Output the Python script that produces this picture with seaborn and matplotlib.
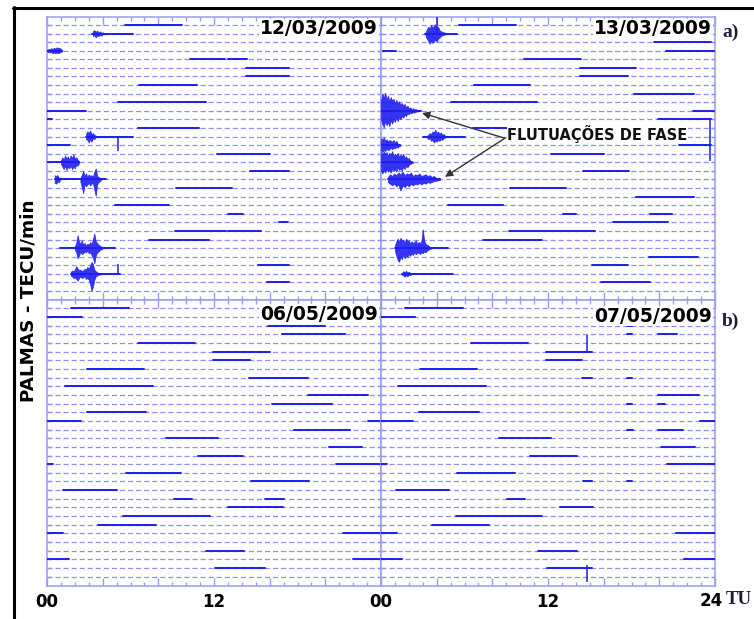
import matplotlib
matplotlib.use("Agg")
import matplotlib.pyplot as plt
import seaborn as sns
import pandas as pd
from matplotlib.lines import Line2D
from matplotlib.ticker import MultipleLocator

# ---------------- data (hours UT, row index of satellite trace) ----------------
PANEL_DATES = ["12/03/2009", "13/03/2009", "06/05/2009", "07/05/2009"]
N_ROWS = 32
XTICK_LABELS_LEFT = {0: "00", 12: "12"}
XTICK_LABELS_RIGHT = {0: "00", 12: "12"}
LAST_TICK_LABEL = "24"
X_UNIT = "TU"

# (row, start hour, end hour)
TL_SEGMENTS = [(0, 5.62, 9.72), (1, 3.26, 6.2), (3, 0.0, 1.08), (4, 10.3, 12.8), (4, 13.0, 14.4),
               (5, 14.3, 17.4), (6, 14.3, 17.4), (7, 6.6, 10.8), (9, 5.07, 11.46), (10, 0.0, 2.82),
               (11, 0.0, 0.36), (12, 6.56, 10.93), (13, 2.82, 6.15), (14, 0.0, 1.62), (15, 12.2, 16.0),
               (16, 0.0, 2.3), (17, 14.6, 17.4), (18, 0.55, 4.27), (19, 9.3, 13.3), (21, 4.9, 8.75),
               (22, 13.0, 14.06), (23, 16.7, 17.3), (24, 9.17, 12.85), (24, 13.0, 15.4),
               (25, 7.36, 11.65), (26, 0.96, 4.9), (28, 15.15, 17.4), (29, 1.7, 5.23), (30, 15.8, 17.4)]
TR_SEGMENTS = [(0, 5.57, 9.73), (1, 3.17, 5.45), (2, 19.6, 23.7), (3, 0.17, 1.08), (3, 20.5, 23.95),
               (4, 10.3, 14.4), (5, 14.3, 18.35), (6, 14.3, 17.75), (7, 6.65, 10.7), (8, 18.2, 22.5),
               (9, 5.05, 11.2), (10, 0.0, 2.85), (10, 22.4, 23.95), (11, 19.9, 23.7), (12, 6.6, 10.85),
               (13, 3.05, 6.05), (14, 0.0, 1.4), (14, 21.4, 23.7), (15, 12.2, 16.0), (16, 0.0, 2.2),
               (17, 14.5, 17.8), (18, 0.53, 4.25), (19, 9.25, 13.26), (20, 18.35, 22.5), (21, 4.85, 8.77),
               (22, 13.07, 14.03), (22, 19.3, 20.9), (23, 16.7, 20.6), (24, 9.18, 15.35), (25, 7.33, 11.58),
               (26, 1.0, 4.85), (27, 19.26, 22.8), (28, 15.18, 17.75), (29, 1.54, 5.2), (30, 15.8, 19.34)]
BL_SEGMENTS = [(0, 1.76, 5.92), (1, 0.0, 2.48), (2, 15.9, 20.0), (3, 16.86, 21.4), (4, 6.57, 10.65),
               (5, 11.9, 16.0), (6, 11.9, 14.57), (7, 2.89, 7.0), (8, 14.5, 18.76), (9, 1.27, 7.6),
               (10, 18.78, 23.04), (11, 16.2, 20.5), (12, 2.84, 7.1), (13, 0.0, 2.43), (13, 23.04, 24.0),
               (14, 17.75, 21.8), (15, 8.54, 12.3), (16, 20.27, 22.6), (17, 10.85, 14.1), (18, 0.0, 0.43),
               (18, 20.75, 24.0), (19, 5.65, 9.64), (20, 14.67, 18.83), (21, 1.15, 5.0), (22, 9.16, 10.4),
               (22, 15.7, 17.0), (23, 13.0, 16.96), (24, 5.43, 11.69), (25, 3.68, 7.82), (26, 0.0, 1.15),
               (26, 21.3, 24.0), (28, 11.45, 14.19), (29, 0.0, 1.56), (29, 21.96, 24.0), (30, 12.05, 15.7)]
BR_SEGMENTS = [(0, 1.72, 5.87), (1, 0.0, 2.44), (2, 17.65, 18.0), (3, 17.65, 18.05), (3, 19.9, 21.25),
               (4, 6.5, 10.54), (5, 11.86, 15.14), (6, 11.86, 14.47), (7, 2.8, 6.92), (8, 14.42, 15.14),
               (8, 17.65, 18.0), (9, 1.2, 7.54), (10, 19.93, 22.87), (11, 17.65, 18.0), (11, 19.93, 20.4),
               (12, 2.75, 7.02), (13, 0.0, 2.32), (13, 22.92, 24.0), (14, 17.65, 18.1), (14, 19.93, 21.68),
               (15, 8.5, 12.2), (16, 20.1, 22.56), (17, 10.7, 14.06), (18, 0.0, 0.4), (18, 20.57, 24.0),
               (19, 5.48, 9.63), (20, 14.54, 15.14), (20, 17.65, 18.0), (21, 1.08, 4.91), (22, 9.08, 10.35),
               (23, 12.86, 15.2), (24, 5.39, 11.6), (25, 3.64, 7.76), (26, 0.0, 1.13), (26, 21.2, 24.0),
               (28, 11.3, 14.06), (29, 0.0, 1.49), (29, 21.8, 24.0), (30, 11.95, 15.14)]

# phase fluctuation bursts: (row, hours, excursion above, excursion below) in row units
TL_BURSTS = [
    (1, [3.3, 3.4, 3.5, 3.6, 3.7, 3.8, 3.9, 4.0, 4.1, 4.2],
     [0.3, 0.4, 0.2, 0.35, 0.15, 0.25, 0.1, 0.15, 0.05, 0.03],
     [0.3, 0.2, 0.45, 0.2, 0.3, 0.15, 0.25, 0.1, 0.08, 0.03]),
    (3, [0.0, 0.1, 0.2, 0.3, 0.4, 0.5, 0.6, 0.7, 0.8, 0.9, 1.0, 1.1],
     [0.1, 0.2, 0.15, 0.3, 0.2, 0.35, 0.25, 0.4, 0.3, 0.35, 0.2, 0.05],
     [0.1, 0.15, 0.2, 0.15, 0.3, 0.2, 0.3, 0.2, 0.3, 0.2, 0.15, 0.05]),
    (13, [2.8, 2.9, 3.0, 3.1, 3.2, 3.3, 3.4, 3.5, 3.6],
     [0.3, 0.6, 0.4, 0.7, 0.3, 0.4, 0.2, 0.1, 0.03],
     [0.3, 0.4, 0.7, 0.3, 0.6, 0.2, 0.3, 0.1, 0.03]),
    (16, [1.0, 1.1, 1.2, 1.3, 1.4, 1.5, 1.6, 1.7, 1.8, 1.9, 2.0, 2.1, 2.2, 2.3],
     [0.2, 0.6, 0.3, 0.8, 0.4, 0.7, 0.3, 0.8, 0.5, 0.9, 0.4, 0.6, 0.3, 0.1],
     [0.2, 0.5, 0.8, 0.4, 0.9, 0.5, 0.7, 0.4, 0.8, 0.5, 0.7, 0.3, 0.4, 0.1]),
    (18, [0.55, 0.65, 0.75, 0.85, 0.95],
     [0.5, 0.4, 0.5, 0.2, 0.05],
     [0.4, 0.5, 0.3, 0.3, 0.05]),
    (18, [2.4, 2.5, 2.6, 2.7, 2.8, 2.9, 3.0, 3.1, 3.2, 3.3, 3.4, 3.5, 3.6, 3.7, 3.8, 3.9],
     [0.2, 0.5, 1.0, 0.4, 0.7, 0.3, 0.6, 0.4, 0.5, 0.3, 0.9, 1.3, 0.4, 0.3, 0.2, 0.05],
     [0.3, 0.9, 1.6, 0.5, 0.8, 0.6, 0.4, 0.7, 0.5, 0.4, 1.2, 1.9, 0.6, 0.3, 0.2, 0.05]),
    (26, [2.0, 2.1, 2.2, 2.3, 2.4, 2.5, 2.6, 2.7, 2.8, 2.9, 3.0, 3.1, 3.2, 3.3, 3.4, 3.5, 3.6, 3.7, 3.8,
          3.9, 4.0],
     [0.2, 0.6, 1.5, 0.8, 0.5, 0.9, 0.4, 0.6, 0.3, 0.5, 0.4, 0.7, 0.5, 1.0, 1.7, 0.8, 0.6, 0.4, 0.3,
      0.15, 0.05],
     [0.2, 0.5, 1.2, 0.9, 0.4, 0.7, 0.6, 0.4, 0.5, 0.3, 0.6, 0.5, 0.8, 1.1, 1.8, 0.9, 0.5, 0.4, 0.2,
      0.15, 0.05]),
    (29, [1.7, 1.8, 1.9, 2.0, 2.1, 2.2, 2.3, 2.4, 2.5, 2.6, 2.7, 2.8, 2.9, 3.0, 3.1, 3.2, 3.3, 3.4, 3.5,
          3.6, 3.7, 3.8, 3.9],
     [0.2, 0.4, 0.3, 0.5, 0.9, 0.6, 0.4, 0.5, 0.3, 0.4, 0.6, 0.5, 0.8, 0.6, 1.0, 1.4, 1.1, 0.5, 0.3,
      0.2, 0.1, 0.08, 0.05],
     [0.2, 0.3, 0.5, 0.4, 0.6, 0.8, 0.5, 0.3, 0.5, 0.4, 0.3, 0.6, 0.5, 0.7, 1.2, 2.0, 1.5, 0.7, 0.3,
      0.2, 0.1, 0.08, 0.05]),
]
TR_BURSTS = [
    (1, [3.2, 3.3, 3.4, 3.5, 3.6, 3.7, 3.8, 3.9, 4.0, 4.1, 4.2, 4.3, 4.4, 4.5, 4.6, 4.7, 4.8],
     [0.2, 0.5, 0.8, 0.6, 1.0, 0.7, 0.9, 1.1, 0.6, 0.8, 0.4, 0.3, 0.2, 0.15, 0.1, 0.08, 0.05],
     [0.3, 0.6, 0.9, 1.2, 0.8, 1.1, 0.9, 0.7, 1.0, 0.6, 0.5, 0.3, 0.2, 0.15, 0.1, 0.08, 0.05]),
    (10, [0.0, 0.1, 0.2, 0.3, 0.4, 0.5, 0.6, 0.7, 0.8, 0.9, 1.0, 1.1, 1.2, 1.3, 1.4, 1.5, 1.6, 1.7, 1.8,
          1.9, 2.0, 2.1, 2.2, 2.3, 2.4, 2.5, 2.6, 2.7, 2.8],
     [1.2, 2.0, 1.5, 2.1, 1.3, 1.8, 1.1, 1.6, 1.2, 1.4, 0.9, 1.3, 0.8, 1.1, 0.7, 0.9, 0.6, 0.8, 0.4,
      0.6, 0.3, 0.4, 0.2, 0.3, 0.15, 0.2, 0.1, 0.08, 0.05],
     [1.0, 1.6, 1.9, 1.2, 1.7, 1.3, 1.8, 1.1, 1.5, 1.0, 1.3, 0.8, 1.2, 0.7, 1.0, 0.6, 0.8, 0.5, 0.6,
      0.3, 0.4, 0.2, 0.3, 0.15, 0.2, 0.1, 0.08, 0.05, 0.05]),
    (13, [3.3, 3.4, 3.5, 3.6, 3.7, 3.8, 3.9, 4.0, 4.1, 4.2, 4.3, 4.4, 4.5, 4.6, 4.7, 4.8],
     [0.1, 0.2, 0.4, 0.3, 0.6, 0.5, 0.8, 0.4, 0.6, 0.3, 0.5, 0.2, 0.3, 0.1, 0.08, 0.05],
     [0.1, 0.3, 0.2, 0.5, 0.4, 0.7, 0.5, 0.6, 0.4, 0.5, 0.3, 0.4, 0.2, 0.1, 0.08, 0.05]),
    (14, [0.0, 0.1, 0.2, 0.3, 0.4, 0.5, 0.6, 0.7, 0.8, 0.9, 1.0, 1.1, 1.2, 1.3, 1.4],
     [0.8, 0.6, 0.9, 0.5, 0.7, 0.4, 0.6, 0.5, 0.4, 0.6, 0.3, 0.5, 0.2, 0.1, 0.05],
     [0.6, 0.8, 0.5, 0.7, 0.4, 0.6, 0.5, 0.3, 0.5, 0.3, 0.4, 0.2, 0.3, 0.1, 0.05]),
    (16, [0.0, 0.1, 0.2, 0.3, 0.4, 0.5, 0.6, 0.7, 0.8, 0.9, 1.0, 1.1, 1.2, 1.3, 1.4, 1.5, 1.6, 1.7, 1.8,
          1.9, 2.0, 2.1, 2.2, 2.3],
     [1.2, 0.9, 1.3, 1.0, 1.2, 0.8, 1.1, 0.9, 1.3, 0.7, 1.0, 0.8, 1.1, 0.6, 0.9, 0.7, 1.0, 0.5, 0.7,
      0.4, 0.5, 0.2, 0.1, 0.05],
     [1.0, 1.3, 0.9, 1.2, 0.8, 1.1, 0.9, 1.2, 0.7, 1.0, 0.8, 1.1, 0.6, 0.9, 0.7, 1.0, 0.5, 0.8, 0.4,
      0.6, 0.3, 0.2, 0.1, 0.05]),
    (18, [0.5, 0.65, 0.8, 0.95, 1.1, 1.25, 1.4, 1.55, 1.7, 1.85, 2.0, 2.15, 2.3, 2.45, 2.6, 2.75, 2.9,
          3.05, 3.2, 3.35, 3.5, 3.65, 3.8, 3.95, 4.1, 4.25],
     [0.3, 0.6, 0.4, 0.7, 0.5, 0.8, 0.6, 0.9, 0.5, 0.7, 0.6, 0.8, 0.4, 0.6, 0.5, 0.7, 0.4, 0.5, 0.6,
      0.4, 0.5, 0.3, 0.4, 0.2, 0.1, 0.05],
     [0.3, 0.5, 0.7, 0.5, 0.8, 0.6, 1.3, 0.7, 0.9, 0.6, 0.8, 0.5, 0.7, 0.5, 0.6, 0.4, 0.6, 0.4, 0.5,
      0.3, 0.4, 0.3, 0.2, 0.15, 0.1, 0.05]),
    (26, [1.0, 1.1, 1.2, 1.3, 1.4, 1.5, 1.6, 1.7, 1.8, 1.9, 2.0, 2.1, 2.2, 2.3, 2.4, 2.5, 2.6, 2.7, 2.8,
          2.9, 3.0, 3.1, 3.2, 3.3, 3.4, 3.5, 3.6],
     [0.3, 0.8, 1.1, 0.7, 1.2, 0.9, 1.0, 0.6, 1.1, 0.8, 0.9, 0.5, 0.8, 0.6, 0.7, 0.9, 0.5, 0.7, 0.6,
      0.8, 2.2, 0.9, 0.5, 0.4, 0.3, 0.15, 0.05],
     [0.3, 0.9, 1.4, 1.6, 1.0, 1.3, 0.8, 1.2, 0.9, 1.0, 0.7, 0.9, 0.6, 0.8, 0.5, 0.7, 0.6, 0.5, 0.7,
      0.5, 0.6, 0.4, 0.5, 0.3, 0.2, 0.1, 0.05]),
    (29, [1.5, 1.6, 1.7, 1.8, 1.9, 2.0, 2.1, 2.2],
     [0.1, 0.3, 0.2, 0.35, 0.15, 0.25, 0.1, 0.05],
     [0.1, 0.2, 0.35, 0.15, 0.3, 0.1, 0.15, 0.05]),
]
BL_BURSTS = []
BR_BURSTS = []

# isolated spikes: (row, hour, extent above, extent below)
TL_SPIKES = [(13, 5.07, 0.0, 1.7), (29, 5.07, 1.2, 0.0)]
TR_SPIKES = [(1, 4.0, 2.1, 0.0), (11, 23.66, 0.0, 4.8)]
BL_SPIKES = []
BR_SPIKES = [(5, 14.78, 1.9, 0.0), (30, 14.78, 0.3, 1.6)]

# ---------------- styling ----------------
sns.set_theme(style="white")
plt.rcParams['font.family'] = ['DejaVu Sans']
plt.rcParams['lines.scale_dashes'] = False

TRACE = "#1e1ef0"
GRID = "#8f8ff0"
SPINE = "#9a9af2"
SERIF = ["Liberation Serif", "DejaVu Serif"]

W, H = 754, 619
fig = plt.figure(figsize=(W / 100, H / 100), dpi=100)


def fx(px):
    return px / W


def fy(py):
    return 1 - py / H


def make_axes(x0, y0, x1, y1):
    return fig.add_axes([fx(x0), fy(y1), (x1 - x0) / W, (y1 - y0) / H])


panels = [
    dict(box=(47, 17, 381, 300), segs=TL_SEGMENTS, bursts=TL_BURSTS, spikes=TL_SPIKES,
         ylim=(32.05, -0.93), labels=None, date_y=0.958),
    dict(box=(381, 17, 715, 300), segs=TR_SEGMENTS, bursts=TR_BURSTS, spikes=TR_SPIKES,
         ylim=(32.05, -0.93), labels=None, date_y=0.958),
    dict(box=(47, 300, 381, 586), segs=BL_SEGMENTS, bursts=BL_BURSTS, spikes=BL_SPIKES,
         ylim=(32.07, -0.96), labels=XTICK_LABELS_LEFT, date_y=0.95),
    dict(box=(381, 300, 715, 586), segs=BR_SEGMENTS, bursts=BR_BURSTS, spikes=BR_SPIKES,
         ylim=(32.07, -0.96), labels=XTICK_LABELS_RIGHT, date_y=0.944),
]

axes = []
for i, p in enumerate(panels):
    ax = make_axes(*p["box"])
    axes.append(ax)
    ax.set_facecolor("white")
    for r in range(N_ROWS):
        ax.axhline(r, color=GRID, lw=0.9, dashes=(3.6, 2.2), zorder=1)
    recs = []
    for k, (row, h0, h1) in enumerate(p["segs"]):
        recs.append(dict(seg=k, hour=h0, row=row))
        recs.append(dict(seg=k, hour=h1, row=row))
    df = pd.DataFrame(recs)
    sns.lineplot(data=df, x="hour", y="row", units="seg", estimator=None, sort=False,
                 color=TRACE, lw=1.4, ax=ax, legend=False, zorder=3)
    for row, hrs, up, dn in p["bursts"]:
        ax.fill_between(hrs, [row - u for u in up], [row + d for d in dn],
                        color=TRACE, alpha=0.9, lw=0.5, zorder=3)
    for row, h, up, dn in p["spikes"]:
        ax.vlines(h, row - up, row + dn, color=TRACE, lw=1.1, zorder=3)

    ax.set_xlim(0, 24)
    ax.set_ylim(*p["ylim"])
    ax.set_xlabel("")
    ax.set_ylabel("")
    for s in ax.spines.values():
        s.set_color(SPINE)
        s.set_linewidth(1.1)
    ax.xaxis.set_major_locator(MultipleLocator(4))
    ax.xaxis.set_minor_locator(MultipleLocator(1))
    ax.set_yticks(range(N_ROWS))
    ax.set_yticklabels([])
    ax.tick_params(axis="x", which="major", direction="in", length=6, width=1, color=SPINE,
                   top=True, bottom=True, pad=5)
    ax.tick_params(axis="x", which="minor", direction="in", length=3, width=1, color=SPINE,
                   top=True, bottom=True)
    ax.tick_params(axis="y", which="major", direction="in", length=3, width=1, color=SPINE,
                   left=True, right=True)
    ticks = list(range(0, 25, 4))
    if p["labels"] is None:
        ax.set_xticklabels([])
    else:
        ax.set_xticks(ticks)
        ax.set_xticklabels([p["labels"].get(t, "") for t in ticks], fontsize=12,
                           fontweight="bold", color="black")
    ax.text(0.991, p["date_y"], PANEL_DATES[i], transform=ax.transAxes, ha="right", va="center",
            fontsize=13.5, fontweight="bold", color="black", zorder=6,
            bbox=dict(fc="white", ec="none", pad=0.6))

# annotation on 13/03/2009
axTR = axes[1]
for target in [(2.95, 10.26), (4.6, 17.7)]:
    axTR.annotate("", xy=target, xytext=(8.9, 13.2),
                  arrowprops=dict(arrowstyle="-|>", color="#333333", lw=1.0, mutation_scale=11,
                                  shrinkA=0, shrinkB=0), zorder=7)
axTR.text(9.05, 12.75, "FLUTUAÇÕES DE FASE", ha="left", va="center", fontsize=10.5,
          fontweight="bold", color="#111111", zorder=6, bbox=dict(fc="white", ec="none", pad=0.3))

# figure-level labels
fig.text(fx(28.5), fy(301), "PALMAS - TECU/min", rotation=90, ha="center", va="center",
         fontsize=13.2, fontweight="bold", color="black")
fig.text(fx(722), fy(32), "a)", ha="left", va="center", fontsize=14, fontweight="bold",
         family=SERIF, color="#1c1c3c")
fig.text(fx(722), fy(321), "b)", ha="left", va="center", fontsize=14, fontweight="bold",
         family=SERIF, color="#1c1c3c")
fig.text(fx(711.5), fy(600.5), LAST_TICK_LABEL, ha="center", va="center", fontsize=12,
         fontweight="bold", color="black")
fig.text(fx(726), fy(600), X_UNIT, ha="left", va="center", fontsize=13.5, fontweight="bold",
         family=SERIF, color="#1c1c3c")

# black outer frame (left and top edges)
fig.add_artist(Line2D([fx(14), fx(14)], [fy(7), 0], color="black", lw=2.2, transform=fig.transFigure))
fig.add_artist(Line2D([fx(13), 1], [fy(8), fy(8)], color="black", lw=2.2, transform=fig.transFigure))

fig.savefig("out.png", dpi=100, facecolor="white")
